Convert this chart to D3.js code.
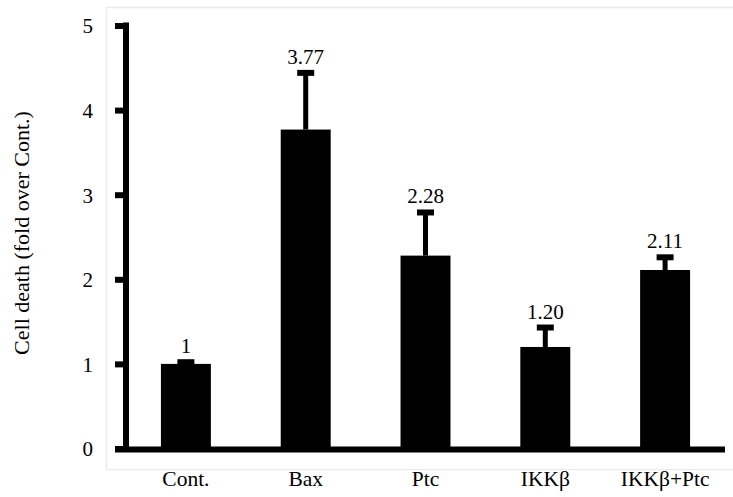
<!DOCTYPE html>
<html>
<head>
<meta charset="utf-8">
<script src="https://cdn.jsdelivr.net/npm/d3@7"></script>
<style>
  html, body { margin: 0; padding: 0; background: #fff; }
  svg { display: block; }
</style>
</head>
<body>
<svg id="chart" width="733" height="497"></svg>
<script>
// Cell death, fold over control
const categories = ["Cont.", "Bax", "Ptc", "IKKβ", "IKKβ+Ptc"];
const means = [1, 3.77, 2.28, 1.20, 2.11];
const errors = [0.02, 0.67, 0.51, 0.23, 0.15];
const labels = ["1", "3.77", "2.28", "1.20", "2.11"];
const yTicks = [0, 1, 2, 3, 4, 5];

const FONT = "'Liberation Serif', 'Times New Roman', 'DejaVu Serif', serif";
const svg = d3.select("#chart");

// faint frame around the plot area
svg.append("rect")
  .attr("x", 106.5).attr("y", 7.5)
  .attr("width", 640).attr("height", 462)
  .attr("fill", "none").attr("stroke", "#ececec").attr("stroke-width", 1.5);

const x = d3.scaleBand()
  .domain(categories)
  .range([126, 725])
  .paddingInner(0.583)
  .paddingOuter(0.2915);

const y = d3.scaleLinear().domain([0, 5]).range([448.5, 25.5]);

// bars
svg.append("g").selectAll("rect")
  .data(categories)
  .join("rect")
  .attr("x", d => x(d))
  .attr("width", x.bandwidth())
  .attr("y", (d, i) => y(means[i]))
  .attr("height", (d, i) => y(0) - y(means[i]))
  .attr("fill", "#000");

// error bars (upper only)
const eb = svg.append("g");
categories.forEach((c, i) => {
  const cx = x(c) + x.bandwidth() / 2;
  eb.append("line")
    .attr("x1", cx).attr("x2", cx)
    .attr("y1", y(means[i])).attr("y2", y(means[i] + errors[i]))
    .attr("stroke", "#000").attr("stroke-width", 5);
  eb.append("line")
    .attr("x1", cx - 8.5).attr("x2", cx + 8.5)
    .attr("y1", y(means[i] + errors[i])).attr("y2", y(means[i] + errors[i]))
    .attr("stroke", "#000").attr("stroke-width", 6);
});

// value labels
svg.append("g").selectAll("text")
  .data(categories)
  .join("text")
  .attr("x", d => x(d) + x.bandwidth() / 2)
  .attr("y", (d, i) => y(means[i] + errors[i]) - 9)
  .attr("text-anchor", "middle")
  .style("font-family", FONT)
  .style("font-size", "21px")
  .style("fill", "#000")
  .text((d, i) => labels[i]);

// y axis
const yAxis = d3.axisLeft(y).tickValues(yTicks).tickSize(11).tickPadding(22).tickFormat(d3.format("d"));
const gy = svg.append("g").attr("transform", "translate(126,0)").call(yAxis);
gy.select(".domain").remove();
gy.selectAll(".tick line").attr("stroke", "#000").attr("stroke-width", 6);
gy.selectAll(".tick text")
  .style("font-family", FONT).style("font-size", "21px").style("fill", "#000")
  .attr("dy", "0.35em");
svg.append("line")
  .attr("x1", 126).attr("x2", 126)
  .attr("y1", y(5) - 3).attr("y2", y(0) + 3)
  .attr("stroke", "#000").attr("stroke-width", 6);

// x axis baseline and category labels
const xAxis = d3.axisBottom(x).tickSize(0).tickPadding(21);
const gx = svg.append("g").attr("transform", `translate(0,${y(0) + 1})`).call(xAxis);
gx.select(".domain").remove();
gx.selectAll(".tick text")
  .style("font-family", FONT).style("font-size", "21.5px").style("fill", "#000");
svg.append("line")
  .attr("x1", 115).attr("x2", 725)
  .attr("y1", y(0) + 1).attr("y2", y(0) + 1)
  .attr("stroke", "#000").attr("stroke-width", 6);

// y axis title
svg.append("text")
  .attr("transform", "translate(29,233) rotate(-90)")
  .attr("text-anchor", "middle")
  .style("font-family", FONT)
  .style("font-size", "22px")
  .style("fill", "#000")
  .text("Cell death (fold over Cont.)");
</script>
</body>
</html>
